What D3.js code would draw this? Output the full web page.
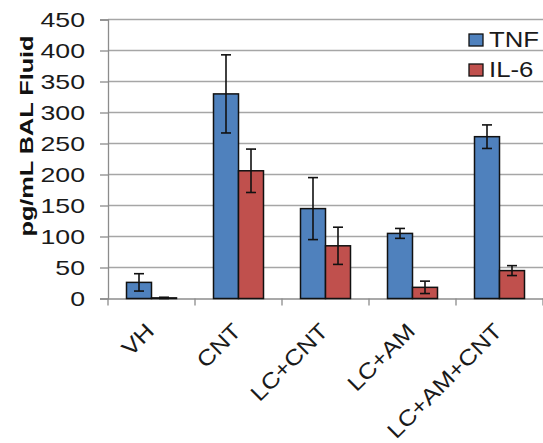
<!DOCTYPE html>
<html>
<head>
<meta charset="utf-8">
<script src="https://cdn.jsdelivr.net/npm/d3@7"></script>
<style>
  html, body { margin: 0; padding: 0; background: #fff; }
  svg { display: block; }
  text { font-family: "Liberation Sans", Arial, sans-serif; }
</style>
</head>
<body>
<svg id="chart" width="543" height="443"></svg>
<script>
// Cytokine levels in BAL fluid per treatment group
const categories = ["VH", "CNT", "LC+CNT", "LC+AM", "LC+AM+CNT"];
const seriesNames = ["TNF", "IL-6"];
const tnfValues = [26, 330, 145, 105, 261];
const tnfErrors = [14, 63, 50, 8, 19];
const il6Values = [1, 206, 85, 18, 45];
const il6Errors = [1, 35, 30, 10, 8];
const yTicks = [0, 50, 100, 150, 200, 250, 300, 350, 400, 450];
const colors = ["#4f81bd", "#c0504d"];

const svg = d3.select("#chart");
const plotLeft = 108, plotRight = 543, plotTop = 19.5, plotBottom = 298.5;

const x0 = d3.scaleBand().domain(categories).range([plotLeft, plotRight]).padding(0);
const x1 = d3.scaleBand().domain(seriesNames).range([0, x0.bandwidth()]).paddingInner(0).paddingOuter(0.74);
const y = d3.scaleLinear().domain([0, 450]).range([plotBottom, plotTop]);

// gridlines
svg.append("g")
  .selectAll("line")
  .data(yTicks.filter(d => d > 0))
  .join("line")
  .attr("x1", plotLeft).attr("x2", plotRight)
  .attr("y1", d => y(d)).attr("y2", d => y(d))
  .attr("stroke", "#a6a6a6").attr("stroke-width", 1.3);

// y axis (labels set in a widened face)
const yAxis = svg.append("g")
  .attr("transform", `translate(${plotLeft},0)`)
  .call(d3.axisLeft(y).tickValues(yTicks).tickSize(8));
yAxis.select(".domain").attr("stroke", "#8c8c8c").attr("stroke-width", 1.3);
yAxis.selectAll(".tick line").attr("stroke", "#8c8c8c").attr("stroke-width", 1.3);
yAxis.selectAll(".tick text")
  .attr("x", 0)
  .attr("dy", "0.35em")
  .attr("transform", "translate(-23,0) scale(1.27,1)")
  .attr("font-size", 21).attr("fill", "#1a1a1a")
  .attr("font-family", "'Liberation Sans', Arial, sans-serif");

// x axis
const xAxis = svg.append("g")
  .attr("transform", `translate(0,${plotBottom})`)
  .call(d3.axisBottom(x0).tickSize(0).tickFormat(""));
xAxis.select(".domain").attr("stroke", "#8c8c8c").attr("stroke-width", 1.3);
// category boundary ticks
svg.append("g")
  .selectAll("line")
  .data(categories.concat(["_end"]))
  .join("line")
  .attr("x1", (d, i) => plotLeft + i * x0.step())
  .attr("x2", (d, i) => plotLeft + i * x0.step())
  .attr("y1", plotBottom).attr("y2", plotBottom + 7)
  .attr("stroke", "#8c8c8c").attr("stroke-width", 1.3);

// category labels, rotated
svg.append("g")
  .selectAll("text")
  .data(categories)
  .join("text")
  .attr("transform", d => `translate(${x0(d) + x0.bandwidth() / 2 + 4},${plotBottom + 34}) rotate(-45) scale(1.15,1)`)
  .attr("text-anchor", "end")
  .attr("font-size", 22)
  .attr("fill", "#1a1a1a")
  .text(d => d);

// bars
const rows = categories.map((c, i) => ({
  cat: c,
  items: [
    { key: "TNF", v: tnfValues[i], e: tnfErrors[i] },
    { key: "IL-6", v: il6Values[i], e: il6Errors[i] }
  ]
}));

const groups = svg.append("g")
  .selectAll("g")
  .data(rows)
  .join("g")
  .attr("transform", d => `translate(${x0(d.cat)},0)`);

groups.selectAll("rect")
  .data(d => d.items)
  .join("rect")
  .attr("x", d => x1(d.key))
  .attr("y", d => y(d.v))
  .attr("width", x1.bandwidth())
  .attr("height", d => y(0) - y(d.v))
  .attr("fill", (d, i) => colors[i])
  .attr("stroke", "#111")
  .attr("stroke-width", 1.5);

// error bars
const cap = 5;
const eb = groups.selectAll("g.err")
  .data(d => d.items)
  .join("g")
  .attr("class", "err")
  .attr("stroke", "#111")
  .attr("stroke-width", 1.6);
eb.append("line")
  .attr("x1", d => x1(d.key) + x1.bandwidth() / 2)
  .attr("x2", d => x1(d.key) + x1.bandwidth() / 2)
  .attr("y1", d => y(d.v + d.e))
  .attr("y2", d => y(Math.max(0, d.v - d.e)));
eb.append("line")
  .attr("x1", d => x1(d.key) + x1.bandwidth() / 2 - cap)
  .attr("x2", d => x1(d.key) + x1.bandwidth() / 2 + cap)
  .attr("y1", d => y(d.v + d.e))
  .attr("y2", d => y(d.v + d.e));
eb.append("line")
  .attr("x1", d => x1(d.key) + x1.bandwidth() / 2 - cap)
  .attr("x2", d => x1(d.key) + x1.bandwidth() / 2 + cap)
  .attr("y1", d => y(Math.max(0, d.v - d.e)))
  .attr("y2", d => y(Math.max(0, d.v - d.e)));

// y axis title
svg.append("text")
  .attr("transform", "translate(33,136) rotate(-90) scale(1.33,1)")
  .attr("text-anchor", "middle")
  .attr("font-size", 19)
  .attr("font-weight", "bold")
  .attr("fill", "#111")
  .text("pg/mL BAL Fluid");

// legend
const legend = svg.append("g")
  .selectAll("g")
  .data(seriesNames)
  .join("g")
  .attr("transform", (d, i) => `translate(469,${47 + i * 30})`);
legend.append("rect")
  .attr("x", 0).attr("y", -13)
  .attr("width", 14).attr("height", 12)
  .attr("fill", (d, i) => colors[i])
  .attr("stroke", "#111").attr("stroke-width", 1.3);
legend.append("text")
  .attr("transform", "translate(20,0) scale(1.12,1)")
  .attr("font-size", 23)
  .attr("fill", "#1a1a1a")
  .text(d => d);
</script>
</body>
</html>
